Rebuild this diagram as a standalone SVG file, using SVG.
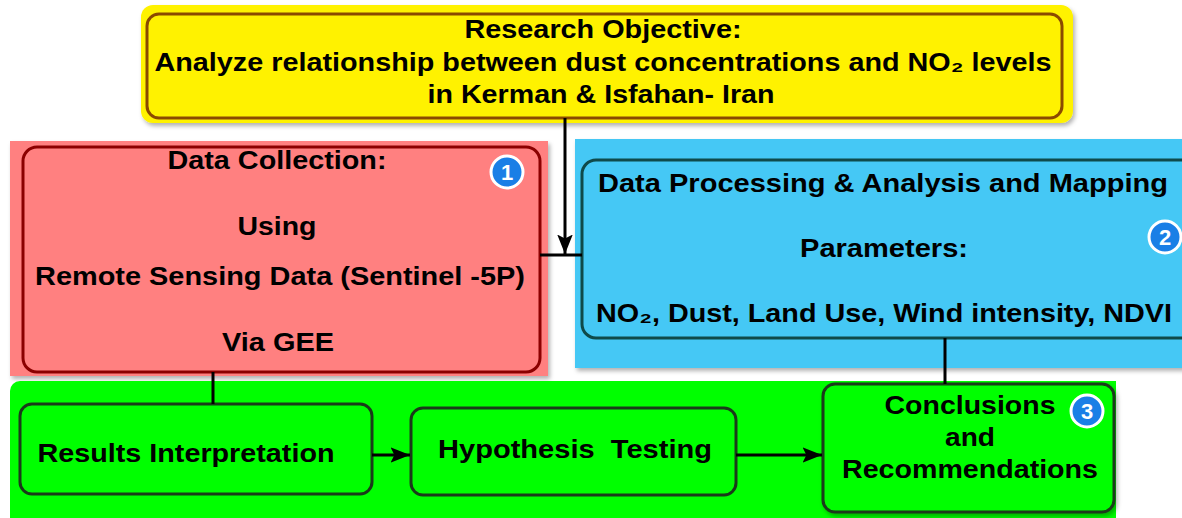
<svg xmlns="http://www.w3.org/2000/svg" width="1182" height="518" viewBox="0 0 1182 518">
<style>
text{font-family:"Liberation Sans",Arial,sans-serif;font-weight:bold;font-size:26px;fill:#000;text-anchor:middle}
.badge circle{fill:#1a7fe6;stroke:#fff;stroke-width:3}
.badge text{fill:#fff;font-size:22px}
.conn{stroke:#000;stroke-width:3;fill:none}
.node{stroke:#1a3a1a;stroke-width:3;fill:#00ff00}
</style>
<defs>
<filter id="sh" x="-5%" y="-5%" width="110%" height="115%">
<feDropShadow dx="2" dy="3" stdDeviation="2" flood-color="#000" flood-opacity="0.3"/>
</filter>
<marker id="ah" viewBox="0 0 10 10" refX="10" refY="5" markerWidth="6.5" markerHeight="6.5" orient="auto" markerUnits="strokeWidth">
<path d="M0,1 L10,5 L0,9 L2,5 z" fill="#000"/>
</marker>
</defs>
<rect width="1182" height="518" fill="#fff"/>

<g id="objective">
<rect x="141" y="5" width="932" height="118" rx="12" fill="#fff200" filter="url(#sh)"/>
<rect x="147" y="14" width="915" height="104" rx="12" fill="none" stroke="#8b4a00" stroke-width="3"/>
<text x="603" y="38" textLength="277" lengthAdjust="spacingAndGlyphs">Research Objective:</text>
<text x="603" y="71" textLength="897" lengthAdjust="spacingAndGlyphs">Analyze relationship between dust concentrations and NO₂ levels</text>
<text x="601" y="103" textLength="347" lengthAdjust="spacingAndGlyphs">in Kerman &amp; Isfahan- Iran</text>
</g>

<g id="collection">
<rect x="10" y="141" width="538" height="235" fill="#ff8080" filter="url(#sh)"/>
<rect x="23" y="147" width="517" height="225" rx="14" fill="none" stroke="#8b0000" stroke-width="3"/>
<text x="277" y="169" textLength="219" lengthAdjust="spacingAndGlyphs">Data Collection:</text>
<text x="277" y="235" textLength="79" lengthAdjust="spacingAndGlyphs">Using</text>
<text x="280" y="285" textLength="490" lengthAdjust="spacingAndGlyphs">Remote Sensing Data (Sentinel -5P)</text>
<text x="278" y="351" textLength="112" lengthAdjust="spacingAndGlyphs">Via GEE</text>
<g class="badge"><circle cx="507" cy="172" r="16"/><text x="507" y="180">1</text></g>
</g>

<g id="processing">
<rect x="575" y="139" width="612" height="229" fill="#44c8f5" filter="url(#sh)"/>
<rect x="582" y="160" width="620" height="178" rx="14" fill="none" stroke="#0f4a4a" stroke-width="3"/>
<text x="883" y="192" textLength="570" lengthAdjust="spacingAndGlyphs">Data Processing &amp; Analysis and Mapping</text>
<text x="884" y="257" textLength="168" lengthAdjust="spacingAndGlyphs">Parameters:</text>
<text x="884" y="322" textLength="576" lengthAdjust="spacingAndGlyphs">NO₂, Dust, Land Use, Wind intensity, NDVI</text>
<g class="badge"><circle cx="1165" cy="237" r="16"/><text x="1165" y="245">2</text></g>
</g>

<g id="outcome">
<path d="M20,381 H1116 V518 H10 V391 A10,10 0 0 1 20,381 z" fill="#00ff00"/>
</g>

<g id="results">
<rect x="20" y="404" width="352" height="90" rx="12" class="node"/>
<text x="186" y="462" textLength="297" lengthAdjust="spacingAndGlyphs">Results Interpretation</text>
</g>

<g id="hypothesis">
<rect x="411" y="408" width="325" height="87" rx="12" class="node"/>
<text x="575" y="458" textLength="274" lengthAdjust="spacingAndGlyphs" xml:space="preserve">Hypothesis  Testing</text>
</g>

<g id="conclusions">
<rect x="823" y="384" width="291" height="128" rx="12" class="node" stroke="#1a2a1a" filter="url(#sh)"/>
<text x="970" y="414" textLength="171" lengthAdjust="spacingAndGlyphs">Conclusions</text>
<text x="970" y="446" textLength="50" lengthAdjust="spacingAndGlyphs">and</text>
<text x="970" y="478" textLength="256" lengthAdjust="spacingAndGlyphs">Recommendations</text>
<g class="badge"><circle cx="1087" cy="411" r="16"/><text x="1087" y="419">3</text></g>
</g>

<g id="connectors">
<line class="conn" x1="540" y1="255" x2="582" y2="255"/>
<line class="conn" x1="565" y1="118" x2="565" y2="254" marker-end="url(#ah)"/>
<line class="conn" x1="213" y1="372" x2="213" y2="404"/>
<line class="conn" x1="945" y1="338" x2="945" y2="384"/>
<line class="conn" x1="372" y1="455" x2="410" y2="455" marker-end="url(#ah)"/>
<line class="conn" x1="736" y1="455" x2="822" y2="455" marker-end="url(#ah)"/>
</g>
</svg>
